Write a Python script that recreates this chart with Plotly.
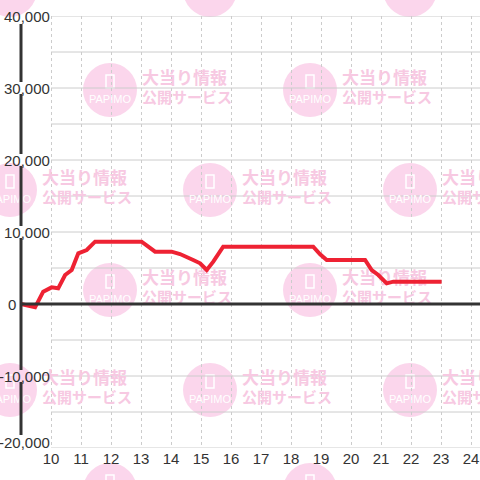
import plotly.graph_objects as go

# ---- data ----
hours = [9.0, 9.47, 9.74, 10.02, 10.24, 10.47, 10.69, 10.91, 11.19, 11.47,
         13.02, 13.47, 14.02, 14.3, 14.74, 14.97, 15.19, 15.41, 15.74,
         18.74, 18.97, 19.19, 20.47, 20.69, 20.91, 21.19, 21.41, 23.02]
values = [0, -460, 1710, 2310, 2180, 4030, 4720, 7040, 7500, 8660,
          8660, 7270, 7270, 6940, 6110, 5650, 4720, 5880, 7960,
          7960, 6900, 6110, 6110, 4720, 4030, 2870, 3100, 3100]
x_ticks = list(range(10, 25))
y_label_vals = [40000, 30000, 20000, 10000, 0, -10000, -20000]
y_grid_vals = list(range(-20000, 40001, 5000))

# ---- geometry helpers (pixel layout of a 480x480 figure) ----
W, H = 480, 480
ML, MR, MT, MB = 0, 0, 16, 32
X0, X1 = 8.3, 24.3
Y0, Y1 = -20000, 40000
PX_PER_UNIT_Y = (H - MT - MB) / (Y1 - Y0)


def px_to_x(px):
    return X0 + (px - ML) * (X1 - X0) / (W - ML - MR)


def py_to_y(py):
    return Y1 - (py - MT) / PX_PER_UNIT_Y


def px_paper(px):
    return (px - ML) / (W - ML - MR)


def py_paper(py):
    return (H - MB - py) / (H - MT - MB)


fig = go.Figure()

# ---- watermark (decoration) ----
wm_pink = "#f7c9e2"
circ_fill = "#fbd6ec"
centers = []
for k in range(6):
    cy = -10 + 100 * k
    off = 100 if k % 2 else 0
    for j in range(-1, 4):
        cx = 10 + 200 * j + off
        centers.append((cx, cy))

shapes = []
R = 27
for cx, cy in centers:
    shapes.append(dict(type="circle", xref="paper", yref="paper",
                       x0=px_paper(cx - R), x1=px_paper(cx + R),
                       y0=py_paper(cy + R), y1=py_paper(cy - R),
                       fillcolor=circ_fill, line=dict(width=0), layer="below"))
    shapes.append(dict(type="rect", xref="paper", yref="paper",
                       x0=px_paper(cx - 4), x1=px_paper(cx + 4),
                       y0=py_paper(cy - 2), y1=py_paper(cy - 15),
                       line=dict(color="white", width=1.5), layer="below"))

wx1, wy1, wt1 = [], [], []
wx2, wy2, wt2 = [], [], []
wx3, wy3, wt3 = [], [], []
for cx, cy in centers:
    wx1.append(px_to_x(cx + 32)); wy1.append(py_to_y(cy - 10)); wt1.append("大当り情報")
    wx2.append(px_to_x(cx + 32)); wy2.append(py_to_y(cy + 9)); wt2.append("公開サービス")
    wx3.append(px_to_x(cx)); wy3.append(py_to_y(cy + 10)); wt3.append("PAPIMO")

fig.add_trace(go.Scatter(x=wx1, y=wy1, text=wt1, mode="text", textposition="middle right",
                         textfont=dict(family="Noto Sans CJK JP", size=17, color=wm_pink, weight="bold"),
                         cliponaxis=False, hoverinfo="skip", showlegend=False))
fig.add_trace(go.Scatter(x=wx2, y=wy2, text=wt2, mode="text", textposition="middle right",
                         textfont=dict(family="Noto Sans CJK JP", size=15, color=wm_pink, weight="bold"),
                         cliponaxis=False, hoverinfo="skip", showlegend=False))
fig.add_trace(go.Scatter(x=wx3, y=wy3, text=wt3, mode="text", textposition="middle center",
                         textfont=dict(family="Liberation Sans Narrow, Liberation Sans", size=11, color="white"),
                         cliponaxis=False, hoverinfo="skip", showlegend=False))

# ---- horizontal grid lines (start at hour 10) ----
for v in y_grid_vals:
    shapes.append(dict(type="line", xref="x", yref="y", x0=10, x1=X1, y0=v, y1=v,
                       line=dict(color="#cccccc", width=1), layer="below"))

# ---- zero line ----
shapes.append(dict(type="line", xref="x", yref="y", x0=9, x1=X1, y0=0, y1=0,
                   line=dict(color="#333333", width=3), layer="above"))

# ---- vertical axis line, broken around labels ----
gap = 6 / PX_PER_UNIT_Y
top = Y1 - 8 / PX_PER_UNIT_Y
bottom = Y0 + 13 / PX_PER_UNIT_Y
breaks = sorted([v for v in y_label_vals if v not in (Y1, Y0, 0)], reverse=True)
seg_start = top
for b in breaks:
    shapes.append(dict(type="line", xref="x", yref="y", x0=9, x1=9, y0=seg_start, y1=b + gap,
                       line=dict(color="#333333", width=3), layer="above"))
    seg_start = b - gap
shapes.append(dict(type="line", xref="x", yref="y", x0=9, x1=9, y0=seg_start, y1=bottom,
                   line=dict(color="#333333", width=3), layer="above"))

# ---- data line ----
fig.add_trace(go.Scatter(x=hours, y=values, mode="lines",
                         line=dict(color="#ee2233", width=4),
                         hoverinfo="skip", showlegend=False))

# ---- y labels ----
annotations = []
for v in y_label_vals:
    annotations.append(dict(xref="x", yref="y", x=10 if v != 0 else 9, y=v,
                            xanchor="right", yanchor="middle", showarrow=False,
                            xshift=1 if v != 0 else -3,
                            yshift=6 if v == Y0 else 0,
                            text=f"{v:,}",
                            font=dict(family="Liberation Sans", size=15, color="#333333")))

fig.update_layout(
    width=W, height=H,
    margin=dict(l=ML, r=MR, t=MT, b=MB),
    paper_bgcolor="white", plot_bgcolor="white",
    shapes=shapes, annotations=annotations,
    xaxis=dict(range=[X0, X1], tickvals=x_ticks, ticktext=[str(t) for t in x_ticks],
               showgrid=True, gridcolor="#cccccc", griddash="dot", gridwidth=1,
               zeroline=False, showline=False, ticks="",
               tickfont=dict(family="Liberation Sans", size=15, color="#333333"),
               fixedrange=True),
    yaxis=dict(range=[Y0, Y1], showgrid=False, zeroline=False, showticklabels=False,
               showline=False, ticks="", fixedrange=True),
)

fig.write_html("out.html", config={"displayModeBar": False},
               post_script="document.body.style.margin='0';document.body.style.padding='0';")
